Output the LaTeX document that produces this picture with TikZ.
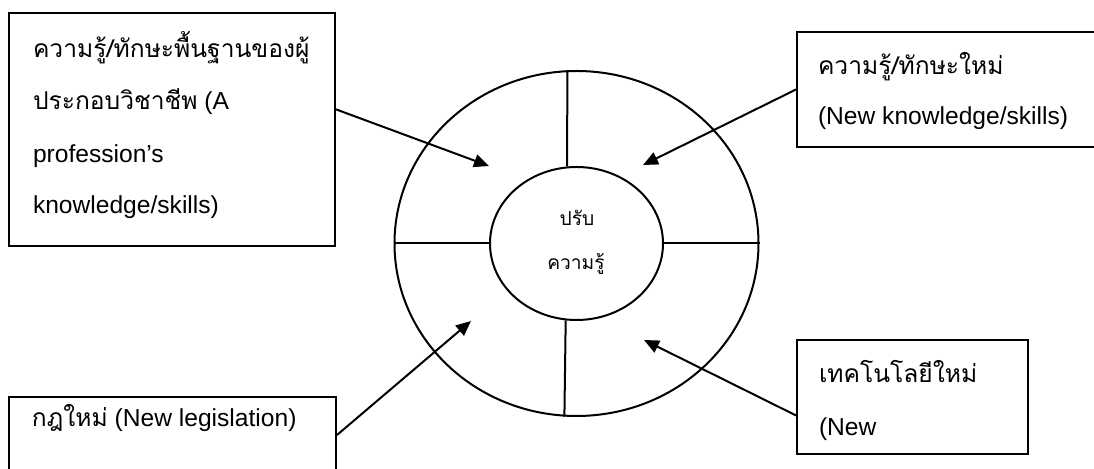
\documentclass[tikz,border=0pt]{standalone}
\usepackage{fontspec}
\setmainfont{Liberation Sans}
\newfontfamily\thaifont[Script=Thai]{Loma}
\usetikzlibrary{arrows.meta,shapes.geometric}

\begin{document}
\begin{tikzpicture}[x=0.5pt, y=-0.5pt, line width=1pt,
  box/.style={draw, rectangle, inner sep=0pt},
  ring/.style={draw, ellipse, inner sep=0pt},
  txt/.style={anchor=base west, inner sep=0pt, font=\fontsize{12.3}{15}\selectfont},
  mid/.style={anchor=base, inner sep=0pt, font=\fontsize{9.6}{12}\selectfont\thaifont},
  feed/.style={-{Triangle[length=7.5pt,width=6.5pt]}}]
\useasboundingbox (0,0) rectangle (1094,469);
% the wheel
\node[ring, minimum width=182pt, minimum height=172.5pt] (outer) at (576.5,243.5) {};
\node[ring, minimum width=86.5pt, minimum height=76.5pt] (inner) at (576.5,243.5) {};
\draw (outer.west) -- (inner.west);
\draw (inner.east) -- (outer.east);
\draw (outer.93.15) -- (inner.97.12);
\draw (inner.262.88) -- (outer.266.85);
\node[mid] (adj) at (577,226) {ปรับ};
\node[mid] (knw) at (576,270) {ความรู้};
% the four boxes
\node[box, minimum width=163pt, minimum height=116.5pt] (base) at (172,129.5) {};
\node[txt] (base1) at (32,58) {\thaifont ความรู้/ทักษะพื้นฐานของผู้};
\node[txt] (base2) at (32,110) {{\thaifont ประกอบวิชาชีพ} (A};
\node[txt] (base3) at (32,163) {profession’s};
\node[txt] (base4) at (32,214) {knowledge/skills)};
\node[box, minimum width=153.5pt, minimum height=57.5pt] (newks) at (950.5,89.5) {};
\node[txt] (newks1) at (817,75) {\thaifont ความรู้/ทักษะใหม่};
\node[txt] (newks2) at (817,125) {(New knowledge/skills)};
\node[box, minimum width=163.5pt, minimum height=38pt] (law) at (172.5,435) {};
\node[txt] (law1) at (31,427) {{\thaifont กฎใหม่} (New legislation)};
\node[box, minimum width=115.5pt, minimum height=57pt] (tech) at (912.5,397) {};
\node[txt] (tech1) at (818,383) {\thaifont เทคโนโลยีใหม่};
\node[txt] (tech2) at (818,436) {(New};
% arrows into the ring
\coordinate (t1) at (489,166);
\coordinate (t2) at (643,165);
\coordinate (t3) at (471,321);
\coordinate (t4) at (644,340);
\draw[feed] (base.7.52) -- (t1);
\draw[feed] (newks.west) -- (t2);
\draw[feed] (law.east) -- (t3);
\draw[feed] (tech.189.8) -- (t4);
\end{tikzpicture}
\end{document}
